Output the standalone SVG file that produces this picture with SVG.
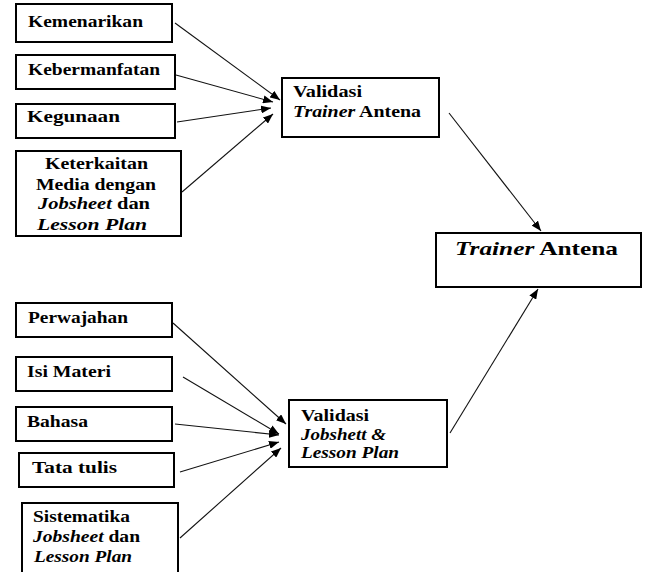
<svg xmlns="http://www.w3.org/2000/svg" width="645" height="572" viewBox="0 0 645 572">
  <style>
    .box { fill: #ffffff; stroke: #000000; stroke-width: 2; }
    .lbl { font-family: 'Liberation Serif', 'DejaVu Serif', serif; font-size: 16px; font-weight: bold; fill: #000000; }
    .big { font-size: 19px; }
    .it { font-style: italic; }
    .conn { stroke: #111111; stroke-width: 1.1; fill: none; marker-end: url(#arrow); }
  </style>
  <defs>
    <marker id="arrow" markerUnits="userSpaceOnUse" markerWidth="10" markerHeight="8" refX="10" refY="4" orient="auto">
      <path d="M0,0 L10,4 L0,8 Z" fill="#000000"/>
    </marker>
  </defs>
  <rect width="645" height="572" fill="#ffffff"/>

  <!-- aspects of the trainer -->
  <g id="kemenarikan">
    <rect class="box" x="16" y="4" width="156" height="38"/>
    <text class="lbl" x="28" y="27" textLength="115" lengthAdjust="spacingAndGlyphs">Kemenarikan</text>
  </g>
  <g id="kebermanfatan">
    <rect class="box" x="16" y="55" width="159" height="34"/>
    <text class="lbl" x="28" y="75" textLength="132" lengthAdjust="spacingAndGlyphs">Kebermanfatan</text>
  </g>
  <g id="kegunaan">
    <rect class="box" x="16" y="104" width="159" height="34"/>
    <text class="lbl" x="27" y="122" textLength="93" lengthAdjust="spacingAndGlyphs">Kegunaan</text>
  </g>
  <g id="keterkaitan">
    <rect class="box" x="16" y="151" width="165" height="85"/>
    <text class="lbl" x="45" y="169" textLength="103" lengthAdjust="spacingAndGlyphs">Keterkaitan</text>
    <text class="lbl" x="36" y="190" textLength="120" lengthAdjust="spacingAndGlyphs">Media dengan</text>
    <text class="lbl" x="38" y="209" textLength="112" lengthAdjust="spacingAndGlyphs"><tspan class="it">Jobsheet</tspan> dan</text>
    <text class="lbl it" x="37" y="230" textLength="110" lengthAdjust="spacingAndGlyphs">Lesson Plan</text>
  </g>

  <!-- trainer validation -->
  <g id="validasi-trainer">
    <rect class="box" x="282" y="78" width="157" height="59"/>
    <text class="lbl" x="293" y="97" textLength="69" lengthAdjust="spacingAndGlyphs">Validasi</text>
    <text class="lbl" x="293" y="117" textLength="128" lengthAdjust="spacingAndGlyphs"><tspan class="it">Trainer</tspan> Antena</text>
  </g>

  <!-- final product -->
  <g id="trainer-antena">
    <rect class="box" x="436" y="233" width="205" height="54"/>
    <text class="lbl big" x="455" y="255" textLength="163" lengthAdjust="spacingAndGlyphs"><tspan class="it">Trainer</tspan> Antena</text>
  </g>

  <!-- aspects of the jobsheet and lesson plan -->
  <g id="perwajahan">
    <rect class="box" x="16" y="303" width="156" height="34"/>
    <text class="lbl" x="28" y="323" textLength="100" lengthAdjust="spacingAndGlyphs">Perwajahan</text>
  </g>
  <g id="isi-materi">
    <rect class="box" x="16" y="357" width="156" height="34"/>
    <text class="lbl" x="27" y="377" textLength="84" lengthAdjust="spacingAndGlyphs">Isi Materi</text>
  </g>
  <g id="bahasa">
    <rect class="box" x="16" y="407" width="156" height="34"/>
    <text class="lbl" x="27" y="427" textLength="61" lengthAdjust="spacingAndGlyphs">Bahasa</text>
  </g>
  <g id="tata-tulis">
    <rect class="box" x="19" y="453" width="155" height="34"/>
    <text class="lbl" x="32" y="473" textLength="85" lengthAdjust="spacingAndGlyphs">Tata tulis</text>
  </g>
  <g id="sistematika">
    <rect class="box" x="22" y="503" width="156" height="80"/>
    <text class="lbl" x="33" y="522" textLength="97" lengthAdjust="spacingAndGlyphs">Sistematika</text>
    <text class="lbl" x="33" y="542" textLength="107" lengthAdjust="spacingAndGlyphs"><tspan class="it">Jobsheet</tspan> dan</text>
    <text class="lbl it" x="34" y="562" textLength="98" lengthAdjust="spacingAndGlyphs">Lesson Plan</text>
  </g>

  <!-- jobsheet and lesson plan validation -->
  <g id="validasi-jobsheet">
    <rect class="box" x="289" y="400" width="158" height="67"/>
    <text class="lbl" x="301" y="421" textLength="68" lengthAdjust="spacingAndGlyphs">Validasi</text>
    <text class="lbl it" x="301" y="440" textLength="85" lengthAdjust="spacingAndGlyphs">Jobshett &amp;</text>
    <text class="lbl it" x="301" y="458" textLength="98" lengthAdjust="spacingAndGlyphs">Lesson Plan</text>
  </g>

  <g id="connectors">
    <line class="conn" x1="175" y1="23" x2="280" y2="100"/>
    <line class="conn" x1="176" y1="75" x2="273" y2="102"/>
    <line class="conn" x1="177" y1="122" x2="271" y2="108"/>
    <line class="conn" x1="182" y1="192" x2="273" y2="114"/>
    <line class="conn" x1="449" y1="113" x2="541" y2="231"/>
    <line class="conn" x1="173" y1="323" x2="286" y2="424"/>
    <line class="conn" x1="183" y1="377" x2="279" y2="434"/>
    <line class="conn" x1="175" y1="424" x2="279" y2="435"/>
    <line class="conn" x1="180" y1="472" x2="279" y2="442"/>
    <line class="conn" x1="180" y1="538" x2="281" y2="448"/>
    <line class="conn" x1="450" y1="433" x2="538" y2="289"/>
  </g>
</svg>
